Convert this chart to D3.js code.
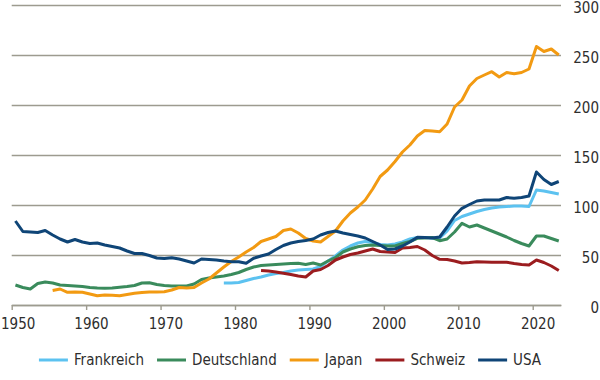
<!DOCTYPE html>
<html>
<head>
<meta charset="utf-8">
<script src="https://cdn.jsdelivr.net/npm/d3@7"></script>
<style>
  html, body { margin: 0; padding: 0; background: #ffffff; }
  svg { display: block; }
  text { font-family: "DejaVu Sans Condensed", "DejaVu Sans", sans-serif; font-stretch: condensed; fill: #2e2e2e; }
</style>
</head>
<body>
<svg id="chart" width="600" height="380"></svg>
<script>
// ---- Data ----
const xTicks = [1950, 1960, 1970, 1980, 1990, 2000, 2010, 2020];
const yTicks = [0, 50, 100, 150, 200, 250, 300];

const seriesNames = ["Frankreich", "Deutschland", "Japan", "Schweiz", "USA"];
const seriesColors = ["#5cc2f0", "#3a8b5c", "#f29a12", "#9b1c1f", "#0f4577"];

const yearsFrankreich = d3.range(1978, 2024);
const valuesFrankreich = [22, 22, 22.5, 24.5, 26.5, 28, 30, 31.5, 32.5, 34, 35, 35.5, 36, 38.5, 44, 49,
  55, 59, 62, 63.5, 62.5, 60.5, 60, 61, 63, 66, 67.5, 67.5, 67, 67, 74, 84.5, 88.5, 91, 93.5, 95.5,
  97, 98, 98.5, 99, 99, 98.5, 115, 114, 112.5, 111];

const yearsDeutschland = d3.range(1950, 2024);
const valuesDeutschland = [20, 17.5, 16, 21.5, 23, 22, 20, 19.5, 19, 18.5, 17.5, 17, 16.7, 17, 17.7, 18.5,
  19.5, 22, 22.3, 20.5, 19.5, 19, 19, 19, 21, 25.5, 27, 28, 29, 30.5, 32.5, 35.5, 38, 39.5, 40, 40.5,
  41, 41.5, 41.7, 40.5, 42, 40, 44, 47.5, 53, 56, 58.3, 59.5, 60, 59.5, 59, 59, 61.5, 63.5, 66.7, 67,
  67.5, 64.3, 66, 73, 81.7, 78, 80, 77, 74, 71, 68, 64.5, 61.5, 59, 69, 69, 66.5, 64];

const yearsJapan = d3.range(1955, 2024);
const valuesJapan = [14.5, 16, 12.7, 13, 12.7, 11, 9.3, 10, 9.7, 9.3, 10.5, 11.7, 12.5, 13, 13, 13.3,
  15, 17.5, 17, 17.5, 22, 26, 32, 38, 43.5, 48, 53, 57.5, 63.5, 66, 68.5, 74.5, 76, 72, 66.5, 64, 63,
  68.5, 74, 84, 92, 98, 105, 116, 128.5, 135, 143.5, 153, 160, 169, 174.5, 174, 173.3, 181, 198, 205,
  219, 226.5, 230, 233.3, 228, 232.5, 231.3, 232.5, 236, 258.5, 253.5, 256, 250];

const yearsSchweiz = d3.range(1983, 2024);
const valuesSchweiz = [34.5, 34, 33, 31.7, 30.5, 29, 28, 34, 35.5, 39.5, 45, 48, 50.5, 52, 54, 56, 53.5,
  53, 52.5, 57, 57.5, 58.5, 55, 49.5, 45.7, 45.5, 44, 42, 42.5, 43.3, 43, 42.8, 42.7, 42.7, 41.5, 40.5,
  40, 45, 42.5, 39, 34.5];

const yearsUSA = d3.range(1950, 2024);
const valuesUSA = [84, 73.5, 73, 72.5, 74.5, 70, 66, 63, 65.5, 63, 61.5, 62, 60, 58.5, 57, 54, 51.5,
  51.5, 49.5, 47, 46.5, 47.3, 46, 44, 42, 46, 45.5, 45, 44, 43.3, 43.3, 41.7, 46.7, 49, 51, 55.5, 59.5,
  62, 63.5, 64.5, 66, 70, 72.5, 74, 72, 70.5, 69, 67, 63.5, 60, 55.5, 56, 59, 63, 67.7, 67.5, 67, 68,
  78, 89, 96.7, 100.5, 104, 105, 105, 105, 107.5, 106.7, 107.5, 109, 133, 125.5, 120.5, 123.5];

const seriesYears = [yearsFrankreich, yearsDeutschland, yearsJapan, yearsSchweiz, yearsUSA];
const seriesValues = [valuesFrankreich, valuesDeutschland, valuesJapan, valuesSchweiz, valuesUSA];

// ---- Layout ----
const svg = d3.select("#chart");
const plotLeft = 11.7, plotRight = 561, plotTop = 5, plotBottom = 305;
const gridColor = "#9d9b8f";
const fontSize = "15px";

const x = d3.scaleLinear().domain([1950, 2023.8]).range([plotLeft, plotRight]);
const y = d3.scaleLinear().domain([0, 300]).range([plotBottom, plotTop]);

// y gridlines + right labels
const yAxis = d3.axisRight(y)
  .tickValues(yTicks)
  .tickSize(-(plotRight - plotLeft))
  .tickSizeOuter(0)
  .tickFormat(d3.format("d"));
const gy = svg.append("g").attr("transform", `translate(${plotRight},0)`).call(yAxis);
gy.select(".domain").remove();
gy.selectAll(".tick line").attr("stroke", gridColor).attr("stroke-width", 1.4);
gy.selectAll(".tick text")
  .attr("x", 599 - plotRight)
  .attr("text-anchor", "end")
  .attr("dy", "0.5em")
  .style("font-size", fontSize);

// x axis
const xAxis = d3.axisBottom(x)
  .tickValues(xTicks)
  .tickSize(5)
  .tickSizeOuter(0)
  .tickPadding(8)
  .tickFormat(d3.format("d"));
const gx = svg.append("g").attr("transform", `translate(0,${plotBottom})`).call(xAxis);
gx.select(".domain").attr("stroke", gridColor).attr("stroke-width", 1.4);
gx.selectAll(".tick line").attr("stroke", gridColor).attr("stroke-width", 1.4);
gx.selectAll(".tick text")
  .attr("dx", x(1950.65) - x(1950))
  .style("font-size", fontSize);
// keep the first label inside the picture
gx.selectAll(".tick text").filter(d => d === xTicks[0])
  .attr("text-anchor", "start")
  .attr("dx", 0.5 - x(xTicks[0]));

// lines
const line = d3.line()
  .x(d => x(d[0] + 0.5))
  .y(d => y(d[1]))
  .curve(d3.curveLinear);

seriesNames.forEach((name, i) => {
  const pts = seriesYears[i].map((yr, j) => [yr, seriesValues[i][j]]);
  svg.append("path")
    .datum(pts)
    .attr("fill", "none")
    .attr("stroke", seriesColors[i])
    .attr("stroke-width", 3)
    .attr("stroke-linejoin", "round")
    .attr("d", line);
});

// legend
const legend = svg.append("g");
const legendY = 360;
const lineLen = 29, gapLT = 6, gapTL = 13;
let cx = 0;
seriesNames.forEach((name, i) => {
  const g = legend.append("g");
  g.append("line")
    .attr("x1", cx).attr("x2", cx + lineLen)
    .attr("y1", legendY).attr("y2", legendY)
    .attr("stroke", seriesColors[i]).attr("stroke-width", 3);
  const t = g.append("text")
    .attr("x", cx + lineLen + gapLT)
    .attr("y", legendY)
    .attr("dy", "0.36em")
    .style("font-size", fontSize)
    .text(name);
  const w = t.node().getComputedTextLength();
  cx += lineLen + gapLT + w + gapTL;
});
const totalW = cx - gapTL;
legend.attr("transform", `translate(${290 - totalW / 2},0)`);
</script>
</body>
</html>
